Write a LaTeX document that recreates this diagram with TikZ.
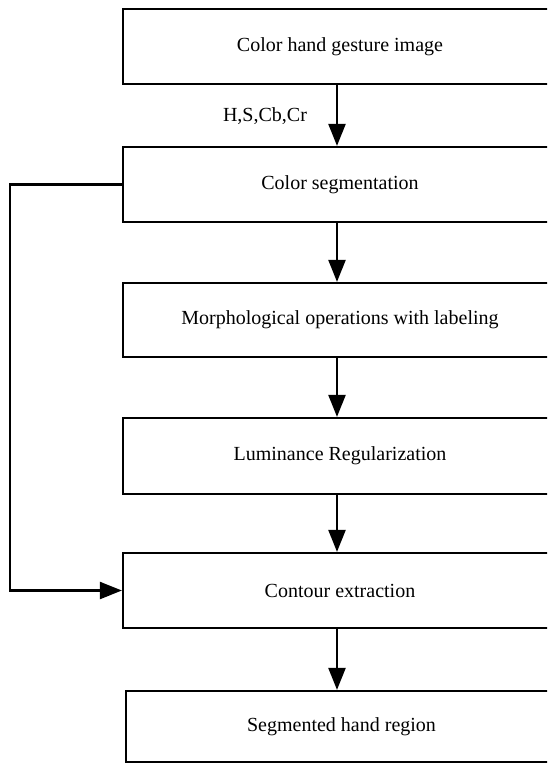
\documentclass[tikz,border=0pt]{standalone}
\usepackage{fontspec}
\setmainfont{Liberation Serif}
\usetikzlibrary{arrows.meta}

\begin{document}
\begin{tikzpicture}[x=1pt, y=-1pt, line width=2.2pt,
  box/.style={shape=rectangle, draw, minimum width=434pt, inner sep=0pt},
  arr/.style={-{Triangle[length=22pt,width=17pt]}}]
\clip (0,0) rectangle (547,763);
\node at (340, 46.5) [box, minimum height=75pt] (b1) {\fontsize{20}{24}\selectfont Color hand gesture image};
\node at (340, 184.5) [box, minimum height=75pt] (b2) {\fontsize{20}{24}\selectfont Color segmentation};
\node at (340, 320) [box, minimum height=74pt] (b3) {\fontsize{20}{24}\selectfont Morphological operations with labeling};
\node at (340, 456) [box, minimum height=76pt] (b4) {\fontsize{20}{24}\selectfont Luminance Regularization};
\node at (340, 590.5) [box, minimum height=75pt] (b5) {\fontsize{20}{24}\selectfont Contour extraction};
\node at (341.5, 726.5) [box, minimum width=431pt, minimum height=71pt] (b6) {\fontsize{20}{24}\selectfont Segmented hand region};
\node at (265, 116) (lbl) {\fontsize{20}{24}\selectfont H,S,Cb,Cr};
\coordinate (fb) at (10, 0);
\draw [arr] (b1.south -| 337,0) to (b2.north -| 337,0);
\draw [arr] (b2.south -| 337,0) to (b3.north -| 337,0);
\draw [arr] (b3.south -| 337,0) to (b4.north -| 337,0);
\draw [arr] (b4.south -| 337,0) to (b5.north -| 337,0);
\draw [arr] (b5.south -| 337,0) to (b6.north -| 337,0);
%feedback
\draw [arr] (b2.west) -- (b2.west -| fb) -- (b5.west -| fb) -- (b5.west);
\end{tikzpicture}
\end{document}
